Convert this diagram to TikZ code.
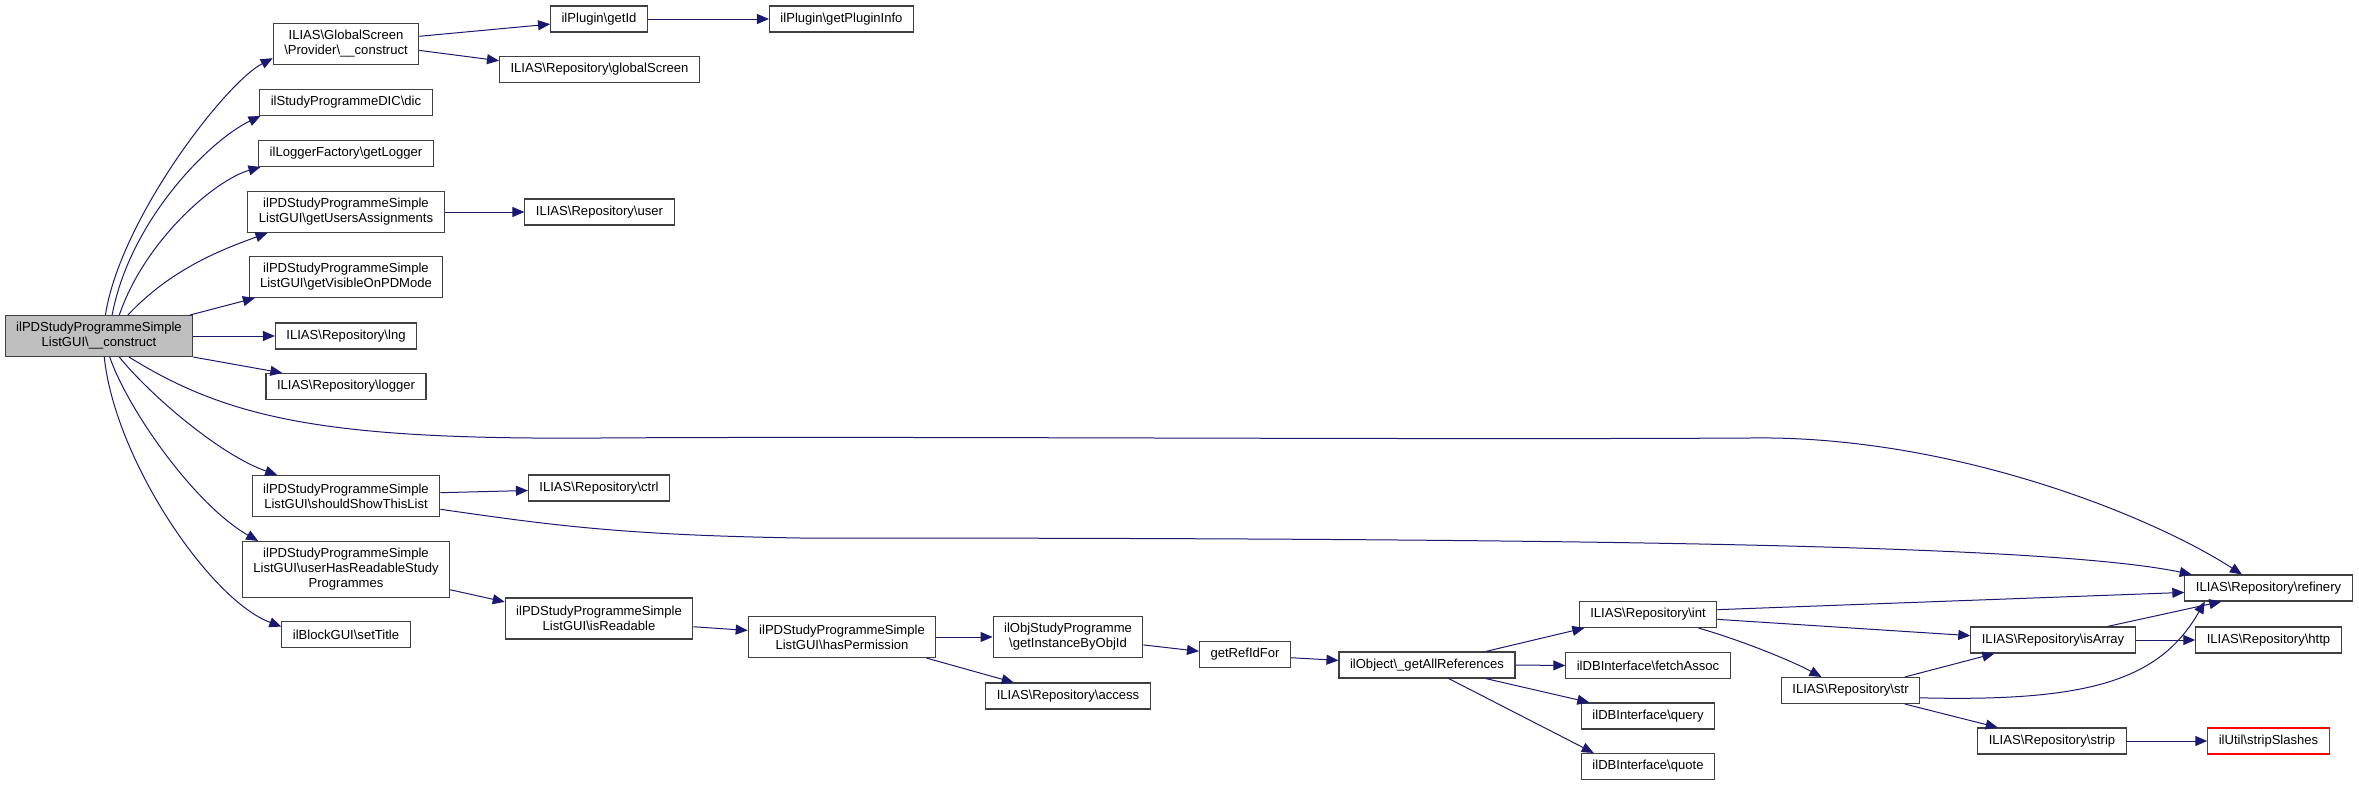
\documentclass[tikz,border=0pt]{standalone}
\usepackage{fontspec}
\setmainfont{Liberation Sans}
\usetikzlibrary{arrows.meta}
\definecolor{navy}{RGB}{25,25,112}
\definecolor{grey25}{RGB}{64,64,64}
\definecolor{grey75}{RGB}{191,191,191}
\newcommand{\bksl}{\textbackslash}
\begin{document}
\begin{tikzpicture}[x=0.75pt,y=-0.75pt,
    fnbox/.style={draw=grey25,fill=white,line width=0.8pt,inner xsep=8.25pt,inner ysep=0pt,
        minimum height=19.5pt,align=center,font=\fontsize{9.8}{11.25}\selectfont},
    fnbox2/.style={fnbox,minimum height=30.75pt},
    fnbox3/.style={fnbox,minimum height=42pt},
    rootbox/.style={fnbox2,fill=grey75},
    truncbox/.style={fnbox,draw=red},
    callarrow/.style={draw=navy,line width=0.75pt,-{Triangle[length=9pt,width=7.5pt]}}]

            \useasboundingbox (0,0) rectangle (2359,785);

            \path   (99,336) node (main) [rootbox] {ilPDStudyProgrammeSimple\\ListGUI\bksl\_\_construct}
                    (346,44) node (gsc) [fnbox2] {ILIAS\bksl GlobalScreen\\\bksl Provider\bksl\_\_construct}
                    (599,19) node (getid) [fnbox] {ilPlugin\bksl getId}
                    (841.5,19) node (plugininfo) [fnbox] {ilPlugin\bksl getPluginInfo}
                    (599.5,69.5) node (globalscreen) [fnbox] {ILIAS\bksl Repository\bksl globalScreen}
                    (346,102.5) node (dic) [fnbox] {ilStudyProgrammeDIC\bksl dic}
                    (346,153.5) node (getlogger) [fnbox] {ilLoggerFactory\bksl getLogger}
                    (346,212) node (assign) [fnbox2] {ilPDStudyProgrammeSimple\\ListGUI\bksl getUsersAssignments}
                    (599.5,212) node (user) [fnbox] {ILIAS\bksl Repository\bksl user}
                    (346,277) node (visible) [fnbox2] {ilPDStudyProgrammeSimple\\ListGUI\bksl getVisibleOnPDMode}
                    (346,336) node (lng) [fnbox] {ILIAS\bksl Repository\bksl lng}
                    (346,386.5) node (logger) [fnbox] {ILIAS\bksl Repository\bksl logger}
                    (346,496) node (showlist) [fnbox2] {ilPDStudyProgrammeSimple\\ListGUI\bksl shouldShowThisList}
                    (599,488) node (ctrl) [fnbox] {ILIAS\bksl Repository\bksl ctrl}
                    (346,569.5) node (readable) [fnbox3] {ilPDStudyProgrammeSimple\\ListGUI\bksl userHasReadableStudy\\Programmes}
                    (346,634.5) node (settitle) [fnbox] {ilBlockGUI\bksl setTitle}
                    (599,618.5) node (isreadable) [fnbox2] {ilPDStudyProgrammeSimple\\ListGUI\bksl isReadable}
                    (842,637) node (haspermission) [fnbox2] {ilPDStudyProgrammeSimple\\ListGUI\bksl hasPermission}
                    (1068,637) node (instance) [fnbox2] {ilObjStudyProgramme\\\bksl getInstanceByObjId}
                    (1068,696) node (access) [fnbox] {ILIAS\bksl Repository\bksl access}
                    (1245,654.5) node (refid) [fnbox] {getRefIdFor}
                    (1427,665) node (allrefs) [fnbox] {ilObject\bksl\_getAllReferences}
                    (1648,614.5) node (int) [fnbox] {ILIAS\bksl Repository\bksl int}
                    (1648,665.5) node (fetchassoc) [fnbox] {ilDBInterface\bksl fetchAssoc}
                    (1648,716) node (query) [fnbox] {ilDBInterface\bksl query}
                    (1648,766.5) node (quote) [fnbox] {ilDBInterface\bksl quote}
                    (1850.5,690.5) node (str) [fnbox] {ILIAS\bksl Repository\bksl str}
                    (2053,640) node (isarray) [fnbox] {ILIAS\bksl Repository\bksl isArray}
                    (2052,741) node (strip) [fnbox] {ILIAS\bksl Repository\bksl strip}
                    (2268.5,588) node (refinery) [fnbox] {ILIAS\bksl Repository\bksl refinery}
                    (2268.5,640) node (http) [fnbox] {ILIAS\bksl Repository\bksl http}
                    (2268.5,741) node (stripslashes) [truncbox] {ilUtil\bksl stripSlashes};

            % calls from the constructor
            \draw[callarrow] (main.73) .. controls (120,220) and (225,83) .. (gsc.191);
            \draw[callarrow] (main.58) .. controls (130,220) and (210,140) .. (dic.189);
            \draw[callarrow] (main.46) .. controls (145,240) and (215,180) .. (getlogger.189);
            \draw[callarrow] (main.36) .. controls (170,270) and (220,250) .. (assign.195);
            \draw[callarrow] (main.13) -- (visible.193);
            \draw[callarrow] (main.east) -- (lng.west);
            \draw[callarrow] (main.south east) -- (logger.168);
            \draw[callarrow] (main.325) .. controls (230,420) and (330,440) .. (600,438)
                             .. controls (900,436) and (1400,440) .. (1750,438)
                             .. controls (1950,435) and (2150,515) .. (refinery.153);
            \draw[callarrow] (main.314) .. controls (150,395) and (220,455) .. (showlist.163);
            \draw[callarrow] (main.297) .. controls (128,410) and (195,505) .. (readable.162);
            \draw[callarrow] (main.284) .. controls (115,460) and (210,600) .. (settitle.173);

            \draw[callarrow] (gsc.6) -- (getid.186);
            \draw[callarrow] (gsc.355) -- (globalscreen.175);
            \draw[callarrow] (getid.east) -- (plugininfo.west);
            \draw[callarrow] (assign.east) -- (user.west);
            \draw[callarrow] (showlist.2) -- (ctrl.182);
            \draw[callarrow] (showlist.352) .. controls (550,525) and (620,535) .. (800,538)
                             .. controls (1600,538) and (2050,545) .. (refinery.170);
            \draw[callarrow] (readable.349) -- (isreadable.170);
            \draw[callarrow] (isreadable.355) -- (haspermission.176);
            \draw[callarrow] (haspermission.east) -- (instance.west);
            \draw[callarrow] (haspermission.346) -- (access.166);
            \draw[callarrow] (instance.354) -- (refid.176);
            \draw[callarrow] (refid.356) -- (allrefs.177);
            \draw[callarrow] (allrefs.13) -- (int.192);
            \draw[callarrow] (allrefs.east) -- (fetchassoc.west);
            \draw[callarrow] (allrefs.347) -- (query.167);
            \draw[callarrow] (allrefs.328) -- (quote.166);
            \draw[callarrow] (int.4) -- (refinery.183);
            \draw[callarrow] (int.356) -- (isarray.177);
            \draw[callarrow] (int.345) .. controls (1740,640) and (1790,660) .. (str.155);
            \draw[callarrow] (str.14) -- (isarray.193);
            \draw[callarrow] (str.346) -- (strip.166);
            \draw[callarrow] (str.354) .. controls (2090,702) and (2160,680) .. (refinery.192);
            \draw[callarrow] (isarray.14) -- (refinery.196);
            \draw[callarrow] (isarray.east) -- (http.west);
            \draw[callarrow] (strip.east) -- (stripslashes.west);

        \end{tikzpicture}
\end{document}
